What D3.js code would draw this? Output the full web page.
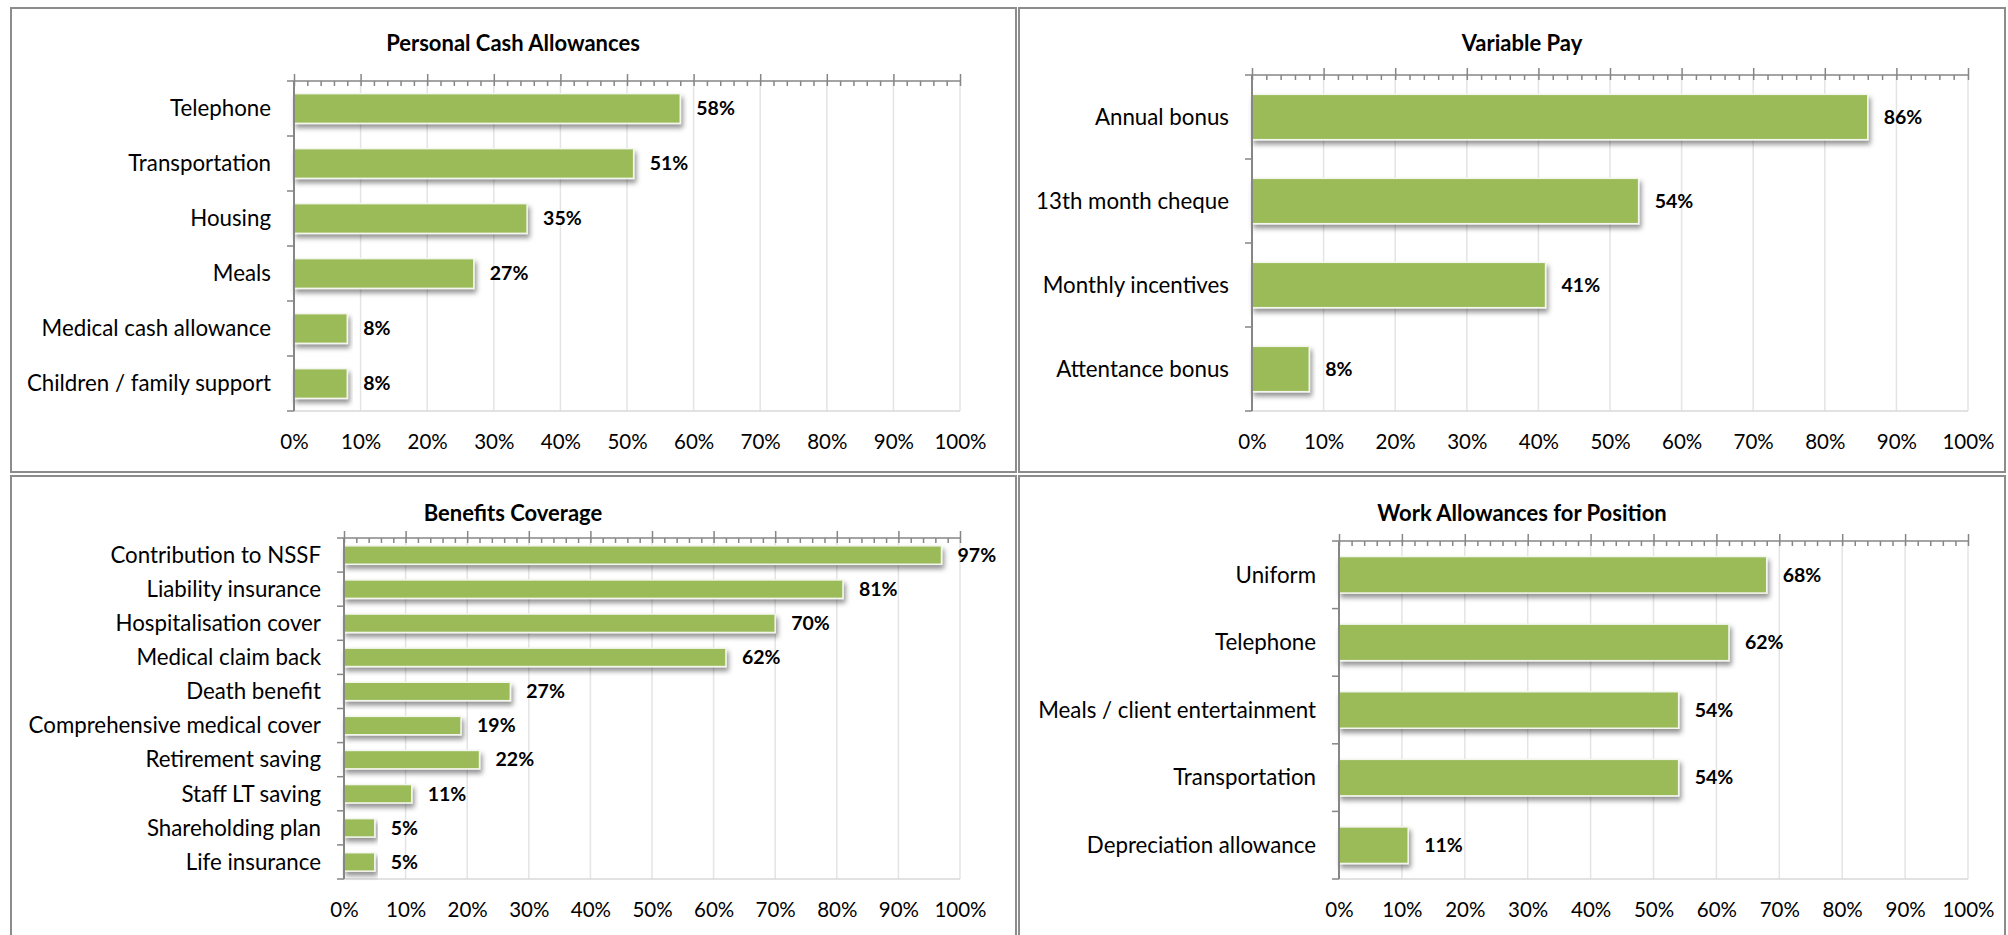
<!DOCTYPE html>
<html>
<head>
<meta charset="utf-8">
<script src="https://cdn.jsdelivr.net/npm/d3@7"></script>
<style>
  body { margin: 0; background: #fff; }
  svg text { font-family: Lato, "Open Sans", sans-serif; fill: #000; }
</style>
</head>
<body>
<script>
/* global d3 */

// ---- data (percent of respondents) ----
var cashCategories = ["Telephone", "Transportation", "Housing", "Meals", "Medical cash allowance", "Children / family support"];
var cashValues = [58, 51, 35, 27, 8, 8];

var variableCategories = ["Annual bonus", "13th month cheque", "Monthly incentives", "Attentance bonus"];
var variableValues = [86, 54, 41, 8];

var benefitCategories = ["Contribution to NSSF", "Liability insurance", "Hospitalisation cover", "Medical claim back",
    "Death benefit", "Comprehensive medical cover", "Retirement saving", "Staff LT saving", "Shareholding plan", "Life insurance"];
var benefitValues = [97, 81, 70, 62, 27, 19, 22, 11, 5, 5];

var workCategories = ["Uniform", "Telephone", "Meals / client entertainment", "Transportation", "Depreciation allowance"];
var workValues = [68, 62, 54, 54, 11];

var xTicks = [0, 10, 20, 30, 40, 50, 60, 70, 80, 90, 100];
var xMinorTicks = d3.range(0, 101, 2);

var width = 2008;
var height = 935;

var svg = d3.select("body")
        .append("svg")
        .attr("width", width)
        .attr("height", height);

// soft shadow under the bars, like the office chart style
svg.append("defs")
        .append("filter")
        .attr("id", "barShadow")
        .attr("x", "-5%").attr("y", "-30%")
        .attr("width", "115%").attr("height", "180%")
        .append("feDropShadow")
        .attr("dx", 2)
        .attr("dy", 4)
        .attr("stdDeviation", 2.4)
        .attr("flood-color", "#000")
        .attr("flood-opacity", 0.42);

var axisColor = "#868686";

var panels = [
    {title: "Personal Cash Allowances", cats: cashCategories, vals: cashValues,
        box: [11, 8, 1005, 464], titleX: 513, titleY: 43,
        left: 294, right: 960, top: 81, bottom: 411, labelY: 442},
    {title: "Variable Pay", cats: variableCategories, vals: variableValues,
        box: [1019, 8, 986, 464], titleX: 1522, titleY: 43,
        left: 1252, right: 1968, top: 75, bottom: 411, labelY: 442},
    {title: "Benefits Coverage", cats: benefitCategories, vals: benefitValues,
        box: [11, 476, 1005, 470], titleX: 513, titleY: 513,
        left: 344, right: 960, top: 538, bottom: 879, labelY: 910},
    {title: "Work Allowances for Position", cats: workCategories, vals: workValues,
        box: [1019, 476, 986, 470], titleX: 1522, titleY: 513,
        left: 1339, right: 1968, top: 541, bottom: 879, labelY: 910}
];

panels.forEach(drawPanel);

function drawPanel(p) {
    var g = svg.append("g");

    g.append("rect")
            .attr("x", p.box[0])
            .attr("y", p.box[1])
            .attr("width", p.box[2])
            .attr("height", p.box[3])
            .attr("fill", "#fff")
            .attr("stroke", "#8c8c8c")
            .attr("stroke-width", 2);

    g.append("text")
            .attr("x", p.titleX)
            .attr("y", p.titleY)
            .attr("dy", "0.35em")
            .attr("text-anchor", "middle")
            .style("font-size", "22px")
            .style("font-weight", "bold")
            .text(p.title);

    var x = d3.scaleLinear().domain([0, 100]).range([p.left, p.right]);
    var y = d3.scaleBand()
            .domain(p.cats)
            .range([p.top, p.bottom])
            .paddingInner(0.46)
            .paddingOuter(0.23);

    // vertical gridlines
    g.append("g").selectAll("line")
            .data(xTicks.slice(1))
            .enter().append("line")
            .attr("x1", x).attr("x2", x)
            .attr("y1", p.top).attr("y2", p.bottom)
            .attr("stroke", "#e4e4e4")
            .attr("stroke-width", 1.5);

    g.append("line")
            .attr("x1", p.left).attr("x2", p.right)
            .attr("y1", p.bottom).attr("y2", p.bottom)
            .attr("stroke", "#d9d9d9")
            .attr("stroke-width", 1.5);

    // bars
    g.append("g").selectAll("rect")
            .data(p.vals)
            .enter().append("rect")
            .attr("x", x(0))
            .attr("y", function (d, i) {
                return y(p.cats[i]);
            })
            .attr("width", function (d) {
                return x(d) - x(0);
            })
            .attr("height", y.bandwidth())
            .attr("fill", "#9bbb59")
            .attr("stroke", "#f3f6ec")
            .attr("stroke-width", 1.5)
            .attr("filter", "url(#barShadow)");

    // value labels
    g.append("g").selectAll("text")
            .data(p.vals)
            .enter().append("text")
            .attr("x", function (d) {
                return x(d) + 16;
            })
            .attr("y", function (d, i) {
                return y(p.cats[i]) + y.bandwidth() / 2;
            })
            .attr("dy", "0.35em")
            .style("font-size", "19.5px")
            .style("font-weight", "bold")
            .text(function (d) {
                return d + "%";
            });

    // category labels
    g.append("g").selectAll("text")
            .data(p.cats)
            .enter().append("text")
            .attr("x", p.left - 23)
            .attr("y", function (d) {
                return y(d) + y.bandwidth() / 2;
            })
            .attr("dy", "0.35em")
            .attr("text-anchor", "end")
            .style("font-size", "22.3px")
            .text(function (d) {
                return d;
            });

    // top axis: major ticks up, minor ticks down
    var topMajor = g.append("g")
            .attr("transform", "translate(0," + p.top + ")")
            .call(d3.axisTop(x).tickValues(xTicks).tickSize(7).tickFormat(""));
    var topMinor = g.append("g")
            .attr("transform", "translate(0," + p.top + ")")
            .call(d3.axisBottom(x).tickValues(xMinorTicks).tickSize(5).tickFormat(""));
    [topMajor, topMinor].forEach(function (a) {
        a.select(".domain").remove();
        a.selectAll("line").attr("stroke", axisColor).attr("stroke-width", 1.5);
    });
    g.append("line")
            .attr("x1", p.left - 7).attr("x2", p.right)
            .attr("y1", p.top).attr("y2", p.top)
            .attr("stroke", axisColor)
            .attr("stroke-width", 1.5);

    // left axis with ticks between categories
    var bounds = d3.range(1, p.cats.length + 1).map(function (i) {
        return p.top + i * y.step();
    });
    g.append("line")
            .attr("x1", p.left).attr("x2", p.left)
            .attr("y1", p.top).attr("y2", p.bottom)
            .attr("stroke", axisColor)
            .attr("stroke-width", 2);
    g.append("g").selectAll("line")
            .data(bounds)
            .enter().append("line")
            .attr("x1", p.left - 7).attr("x2", p.left)
            .attr("y1", function (d) {
                return d;
            })
            .attr("y2", function (d) {
                return d;
            })
            .attr("stroke", axisColor)
            .attr("stroke-width", 1.5);

    // percentage labels below the plot
    var bottomAxis = g.append("g")
            .attr("transform", "translate(0," + p.labelY + ")")
            .call(d3.axisBottom(x).tickValues(xTicks).tickSize(0).tickFormat(function (d) {
                return d + "%";
            }));
    bottomAxis.select(".domain").remove();
    bottomAxis.selectAll("text")
            .attr("y", 0)
            .attr("dy", "0.35em")
            .attr("fill", "#000")
            .style("font-size", "20.5px")
            .style("font-family", "Lato, sans-serif");
}
</script>
</body>
</html>
